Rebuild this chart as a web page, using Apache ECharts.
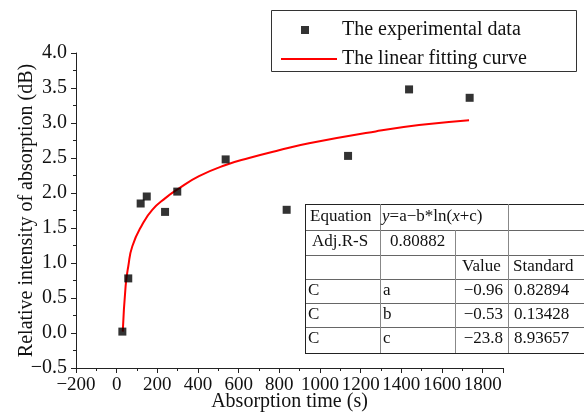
<!DOCTYPE html>
<html>
<head>
<meta charset="utf-8">
<script src="https://cdn.jsdelivr.net/npm/echarts@6/dist/echarts.min.js"></script>
<style>
  html, body { margin: 0; padding: 0; background: #fff; }
  #chart { width: 584px; height: 416px; }
</style>
</head>
<body>
<div id="chart"></div>
<script>
// measured points (absorption time, relative intensity)
var expX = [28, 57, 118, 148, 238, 298, 536, 836, 1138, 1438, 1736]
var expY = [0.02, 0.78, 1.85, 1.95, 1.73, 2.02, 2.48, 1.76, 2.53, 3.48, 3.36]
// fitted curve
var fitX = [30, 44, 57, 77, 126, 175, 241, 298, 405, 536, 651, 798, 946, 1274, 1487, 1733]
var fitY = [0.02, 0.67, 0.95, 1.24, 1.55, 1.76, 1.93, 2.05, 2.24, 2.40, 2.50, 2.61, 2.71, 2.88, 2.97, 3.04]
// fit table
var paramNames = ['a', 'b', 'c']
var paramValues = ['−0.96', '−0.53', '−23.8']
var paramErrors = ['0.82894', '0.13428', '8.93657']
var adjR = '0.80882'

var serif = 'Liberation Serif'
var chart = echarts.init(document.getElementById('chart'))

function minus(v, d) {
  var s = d === undefined ? String(v) : v.toFixed(d)
  return s.replace('-', '−')
}

// table lines & text
var colX = [305, 380, 455, 508, 584]
var rowY = [204, 230, 255, 279, 303, 327, 353]
var tbl = []
function hline(y, c) {
  tbl.push({ type: 'line', shape: { x1: colX[0], y1: y, x2: colX[4], y2: y }, style: { stroke: c, lineWidth: 1 } })
}
function vline(x, y1, y2, c) {
  tbl.push({ type: 'line', shape: { x1: x, y1: y1, x2: x, y2: y2 }, style: { stroke: c, lineWidth: 1 } })
}
function txt(x, y, s, align) {
  tbl.push({ type: 'text', x: x, y: y, style: { text: s, font: '17px ' + serif, fill: '#111', align: align || 'left', verticalAlign: 'middle' } })
}
tbl.push({ type: 'rect', shape: { x: colX[0], y: rowY[0], width: colX[4] - colX[0], height: rowY[6] - rowY[0] }, style: { fill: '#fff' } })
for (var i = 0; i < rowY.length; i++) {
  hline(rowY[i] + 0.5, (i === 0 || i === 6) ? '#222' : '#666')
}
vline(colX[0] + 0.5, rowY[0], rowY[6], '#222')
vline(colX[1] + 0.5, rowY[0], rowY[6], '#888')
vline(colX[2] + 0.5, rowY[1], rowY[6], '#888')
vline(colX[3] + 0.5, rowY[0], rowY[6], '#888')

txt(310, 217, 'Equation')
tbl.push({
  type: 'text', x: 382, y: 217,
  style: {
    text: '{i|y}=a−b*ln({i|x}+c)', font: '17px ' + serif, fill: '#111', verticalAlign: 'middle',
    rich: { i: { fontStyle: 'italic', fontFamily: serif, fontSize: 17 } }
  }
})
txt(312, 242, 'Adj.R-S')
txt(390, 242, adjR)
txt(462, 267, 'Value')
txt(513, 267, 'Standard')
for (var k = 0; k < paramNames.length; k++) {
  var yc = [291, 315, 339][k]
  txt(308, yc, 'C')
  txt(383, yc, paramNames[k])
  txt(503, yc, paramValues[k], 'right')
  txt(514, yc, paramErrors[k])
}

chart.setOption({
  animation: false,
  grid: { left: 76, top: 53, width: 427, height: 315, containLabel: false, outerBoundsMode: 'none' },
  legend: [
    {
      data: ['The experimental data'], left: 296, top: 15, itemWidth: 8, itemHeight: 8,
      textStyle: { fontFamily: serif, fontSize: 20, color: '#111', padding: [0, 0, 0, 28] }
    },
    {
      data: [{ name: 'The linear fitting curve', icon: 'rect' }], left: 276, top: 44, itemWidth: 56, itemHeight: 2,
      textStyle: { fontFamily: serif, fontSize: 20, color: '#111' }
    }
  ],
  xAxis: {
    type: 'value', min: -200, max: 1900, interval: 200,
    name: 'Absorption time (s)', nameLocation: 'middle', nameGap: 24, nameMoveOverlap: false,
    nameTextStyle: { fontFamily: serif, fontSize: 20, color: '#111' },
    axisLine: { show: true, onZero: false, lineStyle: { color: '#222', width: 1 } },
    axisTick: { show: true, length: 5, lineStyle: { color: '#222' } },
    minorTick: { show: true, splitNumber: 2, length: 3, lineStyle: { color: '#222' } },
    splitLine: { show: false },
    axisLabel: {
      fontFamily: serif, fontSize: 19, color: '#111', margin: 8, showMaxLabel: false,
      formatter: function (v) { return minus(v) }
    }
  },
  yAxis: {
    type: 'value', min: -0.5, max: 4.0, interval: 0.5,
    name: 'Relative intensity of absorption (dB)', nameLocation: 'middle', nameGap: 39, nameMoveOverlap: false,
    nameTextStyle: { fontFamily: serif, fontSize: 20, color: '#111' },
    axisLine: { show: true, onZero: false, lineStyle: { color: '#222', width: 1 } },
    axisTick: { show: true, length: 5, lineStyle: { color: '#222' } },
    minorTick: { show: true, splitNumber: 2, length: 3, lineStyle: { color: '#222' } },
    splitLine: { show: false },
    axisLabel: {
      fontFamily: serif, fontSize: 20, color: '#111', margin: 9,
      formatter: function (v) { return minus(v, 1) }
    }
  },
  series: [
    {
      name: 'The experimental data', type: 'scatter', symbol: 'rect', symbolSize: 8,
      itemStyle: { color: '#000' }, z: 3,
      data: expX.map(function (x, i) { return [x, expY[i]] })
    },
    {
      name: 'The linear fitting curve', type: 'line', smooth: true, showSymbol: false, symbol: 'none',
      lineStyle: { color: '#ff0000', width: 2 }, itemStyle: { color: '#ff0000' },
      data: fitX.map(function (x, i) { return [x, fitY[i]] })
    }
  ],
  graphic: [
    { type: 'rect', shape: { x: 271.5, y: 10.5, width: 305, height: 61 }, style: { fill: 'none', stroke: '#333', lineWidth: 1 }, z: 10 },
    { type: 'group', children: tbl, z: 5 }
  ]
})
</script>
</body>
</html>
